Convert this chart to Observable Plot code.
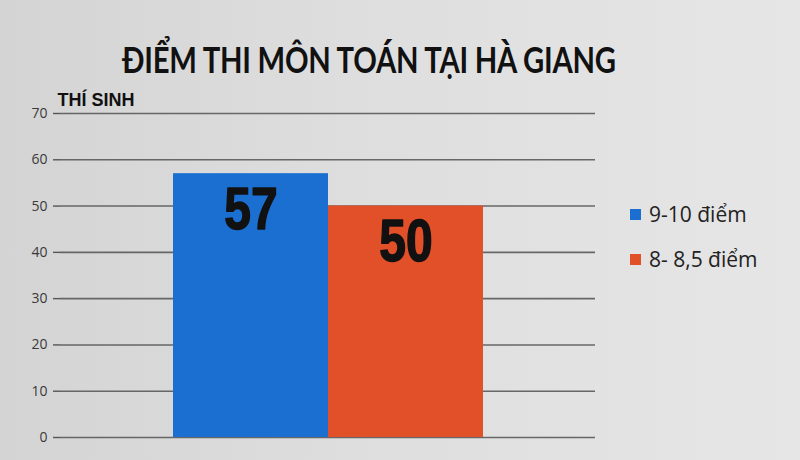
<!DOCTYPE html>
<html>
<head>
<meta charset="utf-8">
<script src="https://cdn.jsdelivr.net/npm/d3@7"></script>
<script src="https://cdn.jsdelivr.net/npm/@observablehq/plot@0.6"></script>
<style>
  html, body { margin: 0; padding: 0; }
  body { width: 800px; height: 460px; overflow: hidden; background: linear-gradient(90deg, #d4d4d4 0%, #dedede 45%, #e6e6e6 100%); position: relative; font-family: "Open Sans", sans-serif; }
  #title { height: 84px; width: 800px; position: relative; }
  #title span { position: absolute; left: 122px; top: 37px; font-family: Lato, sans-serif; font-weight: 700; font-size: 37px; line-height: 44px; color: #111; white-space: nowrap; letter-spacing: -0.3px; transform: scaleX(0.79); transform-origin: left center; }
  #legend { position: absolute; left: 630px; top: 202px; font-family: "Open Sans", sans-serif; font-size: 21px; color: #222; }
  #legend .row { display: flex; align-items: center; height: 24px; margin-bottom: 21px; }
  #legend .sw { width: 11px; height: 11px; margin-right: 8px; }
</style>
</head>
<body>
<div id="title"><span>ĐIỂM THI MÔN TOÁN TẠI HÀ GIANG</span></div>
<div id="chart"></div>
<div id="legend"></div>
<script>
const series = ["9-10 điểm", "8- 8,5 điểm"];
const values = [57, 50];
const colors = ["#1b6fd1", "#e2502a"];
const yTicks = [0, 10, 20, 30, 40, 50, 60, 70];
const yLabel = "THÍ SINH";

const data = series.map((s, i) => ({series: s, value: values[i]}));

const plot = Plot.plot({
  width: 800,
  height: 376,
  marginLeft: 60,
  marginRight: 205,
  marginTop: 29,
  marginBottom: 23,
  style: {background: "transparent", fontFamily: "Open Sans, sans-serif"},
  x: {domain: series, paddingInner: 0, paddingOuter: 0.72, axis: null},
  y: {domain: [0, 70], ticks: yTicks, label: null},
  color: {domain: series, range: colors},
  marks: [
    Plot.gridY(yTicks, {stroke: "#5a5a5a", strokeOpacity: 0.9, strokeWidth: 1.6}),
    Plot.barY(data, {x: "series", y: "value", fill: "series"}),
    Plot.axisY({ticks: yTicks, tickSize: 7, tickPadding: 6, fontSize: 14, fill: "#3a3a3a", stroke: "#555", strokeWidth: 1.4}),
    Plot.ruleX([0], {frameAnchor: "left", stroke: "#555", strokeWidth: 1.6}),
    Plot.text(data, {x: "series", y: "value", text: d => String(d.value), dy: 36, fontSize: 60, fontWeight: "900", fontFamily: "Liberation Sans, sans-serif", fill: "#111", stroke: "#111", strokeWidth: 1.5, lineAnchor: "middle"}),
    Plot.text([yLabel], {frameAnchor: "top-left", dx: -3, dy: -13, textAnchor: "start", lineAnchor: "middle", fontSize: 18, fontWeight: "bold", fontFamily: "Liberation Sans, sans-serif", fill: "#111"})
  ]
});
document.getElementById("chart").appendChild(plot);

d3.select(plot).selectAll("g[font-size='60'] text").each(function() {
  const w = this.getComputedTextLength();
  if (w > 0) {
    this.setAttribute("textLength", (w * 0.8).toFixed(1));
    this.setAttribute("lengthAdjust", "spacingAndGlyphs");
  }
});

const legend = document.getElementById("legend");
series.forEach((s, i) => {
  const row = document.createElement("div");
  row.className = "row";
  row.innerHTML = `<div class="sw" style="background:${colors[i]}"></div><span>${s}</span>`;
  legend.appendChild(row);
});
</script>
</body>
</html>
